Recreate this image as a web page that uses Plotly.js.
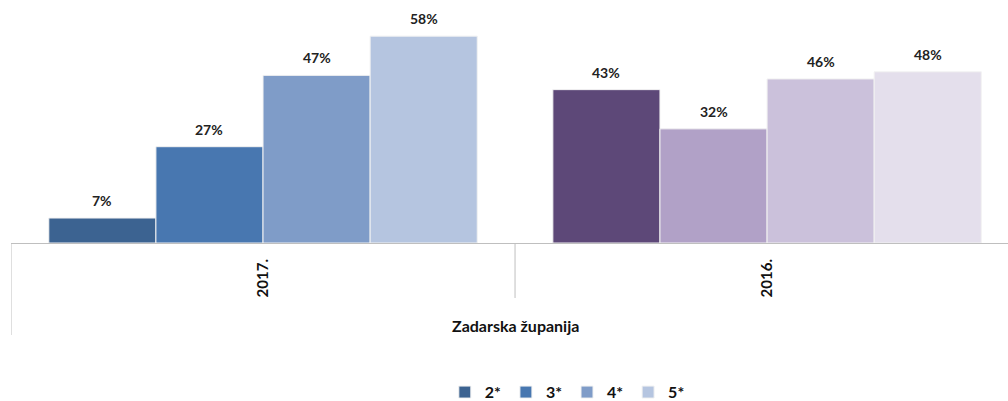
<!DOCTYPE html>
<html><head><meta charset="utf-8">
<script src="https://cdn.plot.ly/plotly-3.0.1.min.js"></script>
<style>html,body{margin:0;padding:0;background:#fff}#chart{width:1008px;height:401px}</style>
</head><body><div id="chart"></div>
<script>
const categories = ["2017.", "2016."];
const groupLabel = "Zadarska županija";
const seriesNames = ["2*", "3*", "4*", "5*"];
const v2 = [7, 43];
const v3 = [27, 32];
const v4 = [47, 46];
const v5 = [58, 48];
const values = [v2, v3, v4, v5];
const colors2017 = ["#3c6391", "#4877b0", "#7f9cc8", "#b5c5e0"];
const colors2016 = ["#5d4878", "#b1a1c7", "#cbc1db", "#e4dfec"];

const FONT = "Lato, 'Open Sans', sans-serif";
const bargap = 0.15;
const n = seriesNames.length;
const bw = (1 - bargap) / n;

const traces = seriesNames.map((name, i) => ({
  type: "bar",
  name: name,
  x: categories,
  y: values[i],
  marker: {color: [colors2017[i], colors2016[i]], line: {color: "#f2f2f2", width: 1}},
  hoverinfo: "none"
}));

const annotations = [];
values.forEach((vals, i) => {
  vals.forEach((v, j) => {
    annotations.push({
      x: j - (1 - bargap) / 2 + bw * (i + 0.5), xref: "x",
      y: v, yref: "y", yanchor: "bottom", yshift: 7,
      text: v + "%", showarrow: false,
      font: {family: FONT, size: 14, color: "#222", weight: "bold"}
    });
  });
});
annotations.push({
  x: 0.5, xref: "x", y: -0.385, yref: "paper", yanchor: "middle",
  text: groupLabel, showarrow: false,
  font: {family: FONT, size: 16, color: "#111", weight: "bold"}
});

const shapes = [
  {type: "line", xref: "x", yref: "paper", x0: -0.5, x1: -0.5, y0: 0, y1: -0.43, line: {color: "#bfbfbf", width: 1}},
  {type: "line", xref: "x", yref: "paper", x0: 0.5, x1: 0.5, y0: 0, y1: -0.257, line: {color: "#bfbfbf", width: 1}}
];

const layout = {
  width: 1008, height: 401,
  margin: {l: 11, r: 0, t: 29, b: 158},
  paper_bgcolor: "#fff", plot_bgcolor: "#fff",
  barmode: "group", bargap: bargap, bargroupgap: 0,
  showlegend: true,
  legend: {orientation: "h", x: 0.558, xanchor: "center", yref: "container", y: 0.022, yanchor: "middle",
    font: {family: FONT, size: 16, color: "#111", weight: "bold"}, traceorder: "normal",
    itemwidth: 30, tracegroupgap: 0},
  xaxis: {type: "category", range: [-0.5, 1.478], tickangle: -90, ticks: "",
    showline: true, linecolor: "#bfbfbf", linewidth: 1, showgrid: false,
    ticklabelstandoff: 9, automargin: false,
    tickfont: {family: FONT, size: 15, color: "#111", weight: "bold"}},
  yaxis: {range: [0, 60], visible: false, showgrid: false, zeroline: false, automargin: false},
  annotations: annotations,
  shapes: shapes
};

Plotly.newPlot("chart", traces, layout, {displayModeBar: false, staticPlot: true});
</script></body></html>
